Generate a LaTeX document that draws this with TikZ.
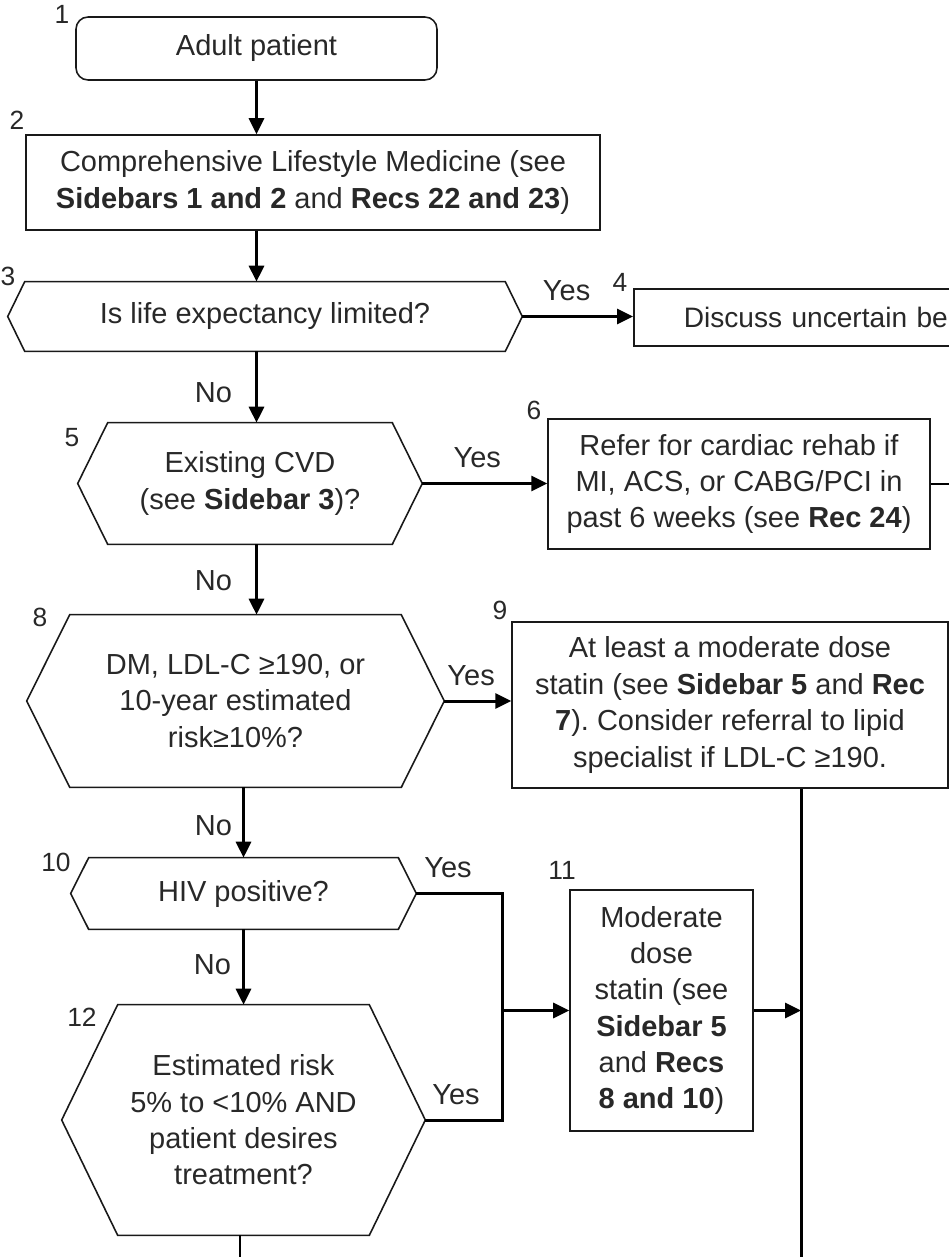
\documentclass[tikz,border=0pt]{standalone}
\usepackage{fontspec}
\setmainfont{Liberation Sans}
\usetikzlibrary{arrows.meta}
\definecolor{ink}{RGB}{40,40,40}
\frenchspacing

\begin{document}
\begin{tikzpicture}[
  x=0.02cm, y=-0.02cm,
  txt/.style={font=\fontsize{16.5}{20.7}\selectfont, text=ink, align=center},
  box/.style={txt, draw=black!90, line width=0.9pt, rectangle, inner sep=0pt},
  query/.style={txt, rectangle, inner sep=0pt},
  frame/.style={draw=black!90, line width=0.9pt, line join=miter},
  tag/.style={font=\fontsize{15}{18}\selectfont, text=ink, inner sep=0pt},
  yes/.style={font=\fontsize{16.5}{20}\selectfont, text=ink, inner sep=0pt, above=0.28cm, pos=0.4},
  no/.style={font=\fontsize{16.5}{20}\selectfont, text=ink, inner sep=0pt, left=#1},
  no/.default=0.46cm,
  line/.style={line width=1.7pt},
  arr/.style={line width=1.7pt, -{Triangle[length=0.32cm,width=0.3cm]}}
]
  \useasboundingbox (0,0) rectangle (949,1257);
  \clip (0,0) rectangle (949,1257);

  % main column
  \node[box, rounded corners=0.24cm, minimum width=7.22cm, minimum height=1.26cm] (adult) at (256.5,48.5) {Adult patient};
  \node[box, minimum width=11.48cm, minimum height=1.9cm] (lifestyle) at (313,182.5)
    {Comprehensive Lifestyle Medicine (see\\ \textbf{Sidebars 1 and 2} and \textbf{Recs 22 and 23})};
  \node[query, minimum width=10.28cm, minimum height=1.38cm] (life) at (265,316.5) {Is life expectancy limited?};
  \node[query, minimum width=6.88cm, minimum height=2.42cm] (cvd) at (250,483.5) {Existing CVD\\ (see \textbf{Sidebar 3})?};
  \node[query, minimum width=8.34cm, minimum height=3.44cm] (risk) at (235.5,701)
    {DM, LDL-C ≥190, or\\ 10-year estimated\\ risk≥10\%?};
  \node[query, minimum width=6.9cm, minimum height=1.42cm] (hiv) at (243.5,893.5) {HIV positive?};
  \node[query, minimum width=7.26cm, minimum height=4.6cm] (est) at (243.5,1120)
    {Estimated risk\\ 5\% to <10\% AND\\ patient desires\\ treatment?};

  % right column
  \node[box, anchor=west, minimum height=1.14cm, inner xsep=1.0cm, text width=5.8cm, align=left,
        font=\fontsize{16}{20.7}\selectfont] (discuss) at (633,317.5)
    {Discuss uncertain be};
  \node[box, minimum width=7.64cm, minimum height=2.6cm] (rehab) at (739,484)
    {Refer for cardiac rehab if\\ MI, ACS, or CABG/PCI in\\ past 6 weeks (see \textbf{Rec 24})};
  \node[box, minimum width=8.72cm, minimum height=3.32cm] (statin) at (730,705)
    {At least a moderate dose\\ statin (see \textbf{Sidebar 5} and \textbf{Rec}\\ \textbf{7}). Consider referral to lipid\\ specialist if LDL-C ≥190.};
  \node[box, minimum width=3.66cm, minimum height=4.82cm] (modstat) at (661.5,1010.5)
    {Moderate\\ dose\\ statin (see\\ \textbf{Sidebar 5}\\ and \textbf{Recs}\\ \textbf{8 and 10})};

  % hexagon outlines
  \foreach \q/\d in {life/0.34, cvd/0.6, risk/0.86, hiv/0.36, est/1.12}
    \draw[frame] (\q.west) -- ([xshift=\d cm]\q.north west) -- ([xshift=-\d cm]\q.north east)
      -- (\q.east) -- ([xshift=-\d cm]\q.south east) -- ([xshift=\d cm]\q.south west) -- cycle;

  % step numbers
  \node[tag] (t1) at (62,14) {1};
  \node[tag] (t2) at (17,120) {2};
  \node[tag] (t3) at (8,276) {3};
  \node[tag] (t4) at (620,282) {4};
  \node[tag] (t5) at (72,438) {5};
  \node[tag] (t6) at (534,410) {6};
  \node[tag] (t8) at (40,617) {8};
  \node[tag] (t9) at (500,610) {9};
  \node[tag] (t10) at (56,862) {10};
  \node[tag] (t11) at (562,870) {11};
  \node[tag] (t12) at (82,1017) {12};

  \coordinate (mrg) at (502,1010.5);
  \coordinate (c6) at (949,484);
  \coordinate (c9) at (801,1257);
  \coordinate (c12) at (240,1257);

  \draw[arr] (adult.south) -- (adult.south |- lifestyle.north);
  \draw[arr] (adult.south |- lifestyle.south) -- (adult.south |- life.north);
  \draw[arr] (life.east) -- node[yes]{Yes} (life.east -| discuss.west);
  \draw[arr] (adult.south |- life.south) -- node[no, pos=0.58]{No} (adult.south |- cvd.north);
  \draw[arr] (cvd.east) -- node[yes, pos=0.44]{Yes} (cvd.east -| rehab.west);
  \draw[line] (rehab.east) -- (c6);
  \draw[arr] (adult.south |- cvd.south) -- node[no, pos=0.52]{No} (adult.south |- risk.north);
  \draw[arr] (risk.east) -- node[yes]{Yes} (risk.east -| statin.west);
  \draw[arr] (hiv.north |- risk.south) -- node[no=0.2cm, pos=0.54]{No} (hiv.north);
  \draw[line] (hiv.east) -- node[yes, pos=0.37]{Yes} (hiv.east -| mrg) -- (mrg |- est.east)
    -- node[yes, pos=0.6]{Yes} (est.east);
  \draw[arr] (mrg) -- (modstat.west);
  \draw[arr] (hiv.south) -- node[no=0.22cm, pos=0.47]{No} (est.north);
  \draw[line] (statin.south -| c9) -- (c9);
  \draw[arr] (modstat.east) -- (modstat.east -| c9);
  \draw[line] (est.south -| c12) -- (c12);
\end{tikzpicture}
\end{document}
